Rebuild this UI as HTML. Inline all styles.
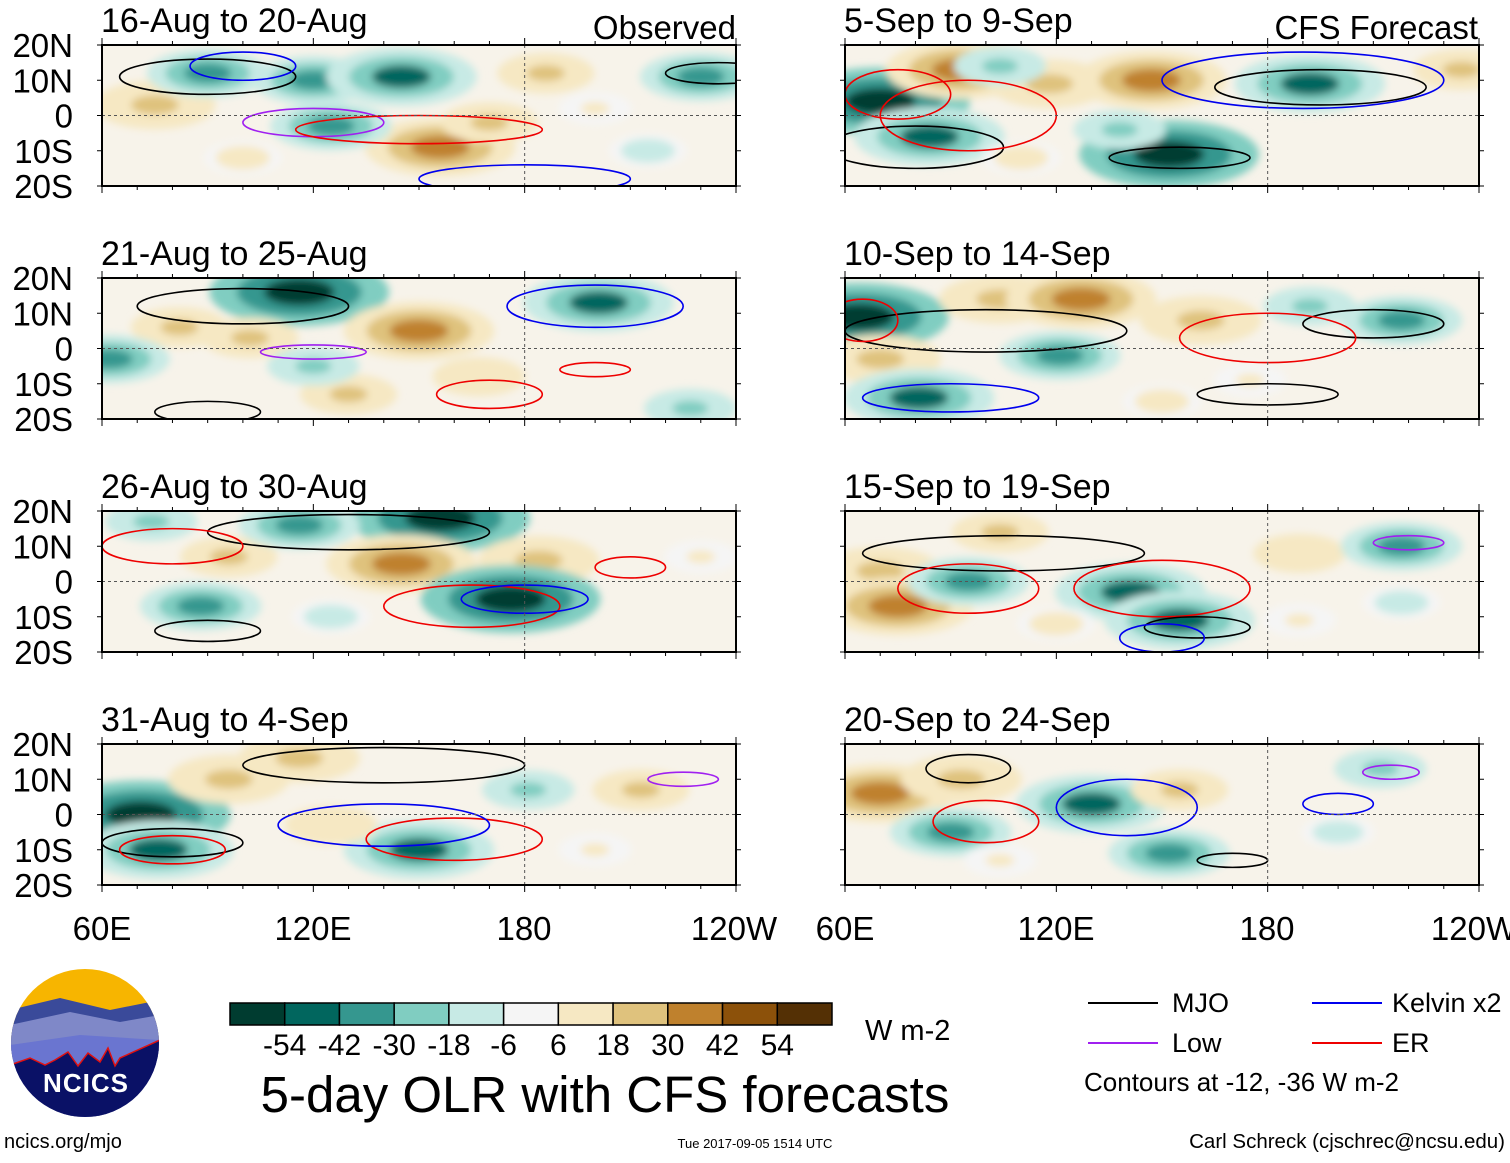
<!DOCTYPE html>
<html><head><meta charset="utf-8">
<style>
body{margin:0;background:#fff;width:1510px;height:1158px;overflow:hidden;font-family:"Liberation Sans",sans-serif}
svg text{font-family:"Liberation Sans",sans-serif}
</style></head>
<body>
<svg id="chart" width="1510" height="1158" viewBox="0 0 1510 1158" xmlns="http://www.w3.org/2000/svg">
<defs>
<filter id="blur" x="-20%" y="-20%" width="140%" height="140%"><feGaussianBlur stdDeviation="4"/></filter>
<clipPath id="logoclip"><circle cx="85" cy="1043" r="74"/></clipPath>
</defs>
<g id="panels"></g>

<g font-size="33" text-anchor="middle">
<text x="102" y="940">60E</text><text x="313" y="940">120E</text><text x="524" y="940">180</text><text x="734" y="940">120W</text>
</g>
<g font-size="33" text-anchor="middle">
<text x="845" y="940">60E</text><text x="1056" y="940">120E</text><text x="1267" y="940">180</text><text x="1474" y="940">120W</text>
</g>

<g clip-path="url(#logoclip)">
<rect x="10" y="968" width="150" height="150" fill="#f7b500"/>
<path d="M10 1010 L60 998 L110 1010 L160 1000 L160 1118 L10 1118Z" fill="#3a4a9a"/>
<path d="M10 1025 L70 1012 L120 1022 L160 1015 L160 1118 L10 1118Z" fill="#7f88c8"/>
<path d="M10 1045 L80 1035 L160 1040 L160 1118 L10 1118Z" fill="#6a75d0"/>
<path d="M10 1065 L30 1058 L45 1065 L55 1060 L68 1052 L78 1066 L88 1053 L100 1062 L108 1048 L115 1066 L120 1058 L160 1040 L160 1118 L10 1118Z" fill="#0a1166" stroke="#e01010" stroke-width="1.5"/>
</g>
<text x="86" y="1092" font-size="26" font-weight="bold" fill="#fff" text-anchor="middle" letter-spacing="1">NCICS</text>
<text x="4" y="1148" font-size="20">ncics.org/mjo</text>

<g id="colorbar"></g>
<text x="865" y="1040" font-size="29">W m-2</text>
<text x="605" y="1112" font-size="51" text-anchor="middle">5-day OLR with CFS forecasts</text>
<text x="755" y="1148" font-size="13" text-anchor="middle">Tue 2017-09-05 1514 UTC</text>
<text x="1505" y="1148" font-size="20.5" text-anchor="end">Carl Schreck (cjschrec@ncsu.edu)</text>

<g font-size="27">
<g><line x1="1088" y1="1003" x2="1158" y2="1003" stroke="#000" stroke-width="2"/><text x="1172" y="1012">MJO</text></g>
<g><line x1="1312" y1="1003" x2="1382" y2="1003" stroke="#0000ee" stroke-width="2"/><text x="1392" y="1012">Kelvin x2</text></g>
<g><line x1="1088" y1="1043" x2="1158" y2="1043" stroke="#a020f0" stroke-width="2"/><text x="1172" y="1052">Low</text></g>
<g><line x1="1312" y1="1043" x2="1382" y2="1043" stroke="#ee0000" stroke-width="2"/><text x="1392" y="1052">ER</text></g>
<text x="1084" y="1091" font-size="26">Contours at -12, -36 W m-2</text>
</g>
</svg>
<script>
const binEdges=[-54,-42,-30,-18,-6,6,18,30,42,54];
const binColors=["#003c30","#01665e","#35978f","#80cdc1","#c7eae5","#f5f5f5","#f6e8c3","#dfc27d","#bf812d","#8c510a","#543005"];
const panelTitles=["16-Aug to 20-Aug","21-Aug to 25-Aug","26-Aug to 30-Aug","31-Aug to 4-Sep","5-Sep to 9-Sep","10-Sep to 14-Sep","15-Sep to 19-Sep","20-Sep to 24-Sep"];
const latLabels=["20N","10N","0","10S","20S"];
const latTicks=[20,10,0,-10,-20];
// blobs: [lon, lat, value]
const blobs0=[[75,3,30],[90,12,-30],[120,10,-30],[145,11,-42],[156,-9,42],[125,-3,-30],[170,-2,20],[230,11,-30],[186,12,20],[215,-10,-12],[100,-12,12],[200,2,10]];
const blobs1=[[116,16,-54],[150,5,42],[201,13,-42],[82,6,20],[62,-3,-30],[130,-13,20],[227,-17,-18],[102,3,20],[167,-8,18],[120,-5,-18]];
const blobs2=[[156,18,-54],[145,5,42],[184,6,30],[176,-5,-54],[88,-7,-30],[74,17,-18],[96,7,20],[116,16,-30],[230,7,10],[125,-10,-12]];
const blobs3=[[71,0,-54],[76,-10,-42],[96,10,30],[116,16,30],[150,-10,-42],[213,7,20],[181,7,-18],[125,-3,18],[200,-10,10]];
const blobs4=[[70,4,-54],[84,-6,-42],[93,13,42],[118,9,30],[147,10,42],[152,-11,-54],[192,9,-42],[235,13,20],[104,14,-18],[138,-4,-18],[110,-12,12]];
const blobs5=[[64,9,-54],[104,14,30],[127,14,42],[161,8,30],[70,-3,30],[121,-2,-30],[81,-14,-42],[218,8,-30],[192,12,-18],[175,-9,10],[150,-15,12]];
const blobs6=[[70,3,30],[75,-7,42],[95,0,-30],[141,-3,-42],[155,-11,-42],[104,14,20],[189,8,18],[218,10,-30],[218,-6,-12],[189,-11,10],[120,-12,12]];
const blobs7=[[70,6,42],[130,3,-42],[152,-11,-30],[90,-5,-30],[93,10,30],[155,7,20],[212,13,-18],[104,-13,10],[200,-5,-10]];
const allBlobs=[blobs0,blobs1,blobs2,blobs3,blobs4,blobs5,blobs6,blobs7];
// contours: [lon, lat, halfWidthDeg, halfHeightDeg, type]
const cont0=[[90,11,25,5,"mjo"],[235,12,15,3,"mjo"],[120,-2,20,4,"low"],[180,-18,30,4,"kelvin"],[150,-4,35,4,"er"],[100,14,15,4,"kelvin"]];
const cont1=[[100,12,30,5,"mjo"],[90,-18,15,3,"mjo"],[200,12,25,6,"kelvin"],[170,-13,15,4,"er"],[120,-1,15,2,"low"],[200,-6,10,2,"er"]];
const cont2=[[130,14,40,5,"mjo"],[90,-14,15,3,"mjo"],[165,-7,25,6,"er"],[180,-5,18,4,"kelvin"],[210,4,10,3,"er"],[80,10,20,5,"er"]];
const cont3=[[140,14,40,5,"mjo"],[80,-8,20,4,"mjo"],[160,-7,25,6,"er"],[140,-3,30,6,"kelvin"],[225,10,10,2,"low"],[80,-10,15,4,"er"]];
const cont4=[[80,-9,25,6,"mjo"],[75,6,15,7,"er"],[195,8,30,5,"mjo"],[155,-12,20,3,"mjo"],[190,10,40,8,"kelvin"],[95,0,25,10,"er"]];
const cont5=[[100,5,40,6,"mjo"],[210,7,20,4,"mjo"],[90,-14,25,4,"kelvin"],[180,-13,20,3,"mjo"],[180,3,25,7,"er"],[65,8,10,6,"er"]];
const cont6=[[105,8,40,5,"mjo"],[150,-2,25,8,"er"],[95,-2,20,7,"er"],[160,-13,15,3,"mjo"],[150,-16,12,4,"kelvin"],[220,11,10,2,"low"]];
const cont7=[[140,2,20,8,"kelvin"],[100,-2,15,6,"er"],[170,-13,10,2,"mjo"],[200,3,10,3,"kelvin"],[215,12,8,2,"low"],[95,13,12,4,"mjo"]];
const allCont=[cont0,cont1,cont2,cont3,cont4,cont5,cont6,cont7];
const contColors={mjo:"#000",kelvin:"#0000ee",low:"#a020f0",er:"#ee0000"};
const cbLabels=["-54","-42","-30","-18","-6","6","18","30","42","54"];

const NS="http://www.w3.org/2000/svg";
function mk(tag,attrs,parent){const e=document.createElementNS(NS,tag);for(const k in attrs)e.setAttribute(k,attrs[k]);if(parent)parent.appendChild(e);return e;}
function colorFor(v){let i=0;while(i<binEdges.length&&v>binEdges[i])i++;return binColors[i];}
const W=634,H=141,tops=[45,278,511,744],lefts=[102,845];
const root=document.getElementById('panels');
for(let p=0;p<8;p++){
  const x0=lefts[Math.floor(p/4)],y0=tops[p%4];
  const xs=lon=>x0+(lon-60)/180*W, ys=lat=>y0+(20-lat)/40*H;
  const g=mk('g',{},root);
  
  
  const cp=mk('clipPath',{id:'cp'+p},g);mk('rect',{x:x0,y:y0,width:W,height:H},cp);
  const inner=mk('g',{'clip-path':'url(#cp'+p+')'},g);
  mk('rect',{x:x0,y:y0,width:W,height:H,fill:'#f7f3ea'},inner);
  const bg=mk('g',{filter:'url(#blur)'},inner);
  allBlobs[p].forEach(b=>{
    const s=Math.abs(b[2]);
    [[1.15,0.35],[0.8,0.6],[0.45,1]].forEach(([f,lev])=>{
      const e=mk('ellipse',{cx:xs(b[0]),cy:ys(b[1]),rx:(6+s*0.3)*f*W/180,ry:(3+s*0.1)*f*H/40,fill:colorFor(b[2]*lev)},bg);
      
      
    });
  });
  allCont[p].forEach(c=>{
    const e=mk('ellipse',{cx:xs(c[0]),cy:ys(c[1]),rx:c[2]*W/180,ry:c[3]*H/40,fill:'none',stroke:contColors[c[4]],'stroke-width':1.6},inner);
    
    
  });
  mk('line',{x1:x0,y1:ys(0),x2:x0+W,y2:ys(0),stroke:'#555','stroke-dasharray':'3,3','stroke-width':1},inner);
  mk('line',{x1:xs(180),y1:y0,x2:xs(180),y2:y0+H,stroke:'#555','stroke-dasharray':'3,3','stroke-width':1},inner);
  const fr=mk('rect',{x:x0,y:y0,width:W,height:H,fill:'none',stroke:'#000','stroke-width':2},g);
  
  
  for(let lon=60;lon<=240;lon+=10){mk('line',{x1:xs(lon),y1:y0,x2:xs(lon),y2:y0-(lon%60?4:7),stroke:'#000'},g);mk('line',{x1:xs(lon),y1:y0+H,x2:xs(lon),y2:y0+H+(lon%60?4:7),stroke:'#000'},g);}
  latTicks.forEach(l=>{mk('line',{x1:x0-5,y1:ys(l),x2:x0,y2:ys(l),stroke:'#000'},g);mk('line',{x1:x0+W,y1:ys(l),x2:x0+W+5,y2:ys(l),stroke:'#000'},g);});
  const t=mk('text',{x:x0-1,y:y0-13,'font-size':34},g);t.textContent=panelTitles[p];
  
  
  if(p<4){latLabels.forEach((lb,i)=>{const tt=mk('text',{x:73,y:ys(latTicks[i])+12,'font-size':33,'text-anchor':'end'},g);tt.textContent=lb;
    
    });}
  if(p===0){const o=mk('text',{x:736,y:y0-6,'font-size':33,'text-anchor':'end'},g);o.textContent='Observed';
    
    }
  if(p===4){const o=mk('text',{x:1478,y:y0-6,'font-size':33,'text-anchor':'end'},g);o.textContent='CFS Forecast';
    
    }
}
const cb=document.getElementById('colorbar');
const bw=(832-230)/binColors.length;
binColors.forEach((c,i)=>{const r=mk('rect',{x:230+i*bw,y:1003,width:bw,height:22,fill:c,stroke:'#000','stroke-width':1.5},cb);
  
  });
cbLabels.forEach((l,i)=>{const t=mk('text',{x:230+(i+1)*bw,y:1055,'font-size':30,'text-anchor':'middle'},cb);t.textContent=l;
  
  });
</script>
</body></html>
